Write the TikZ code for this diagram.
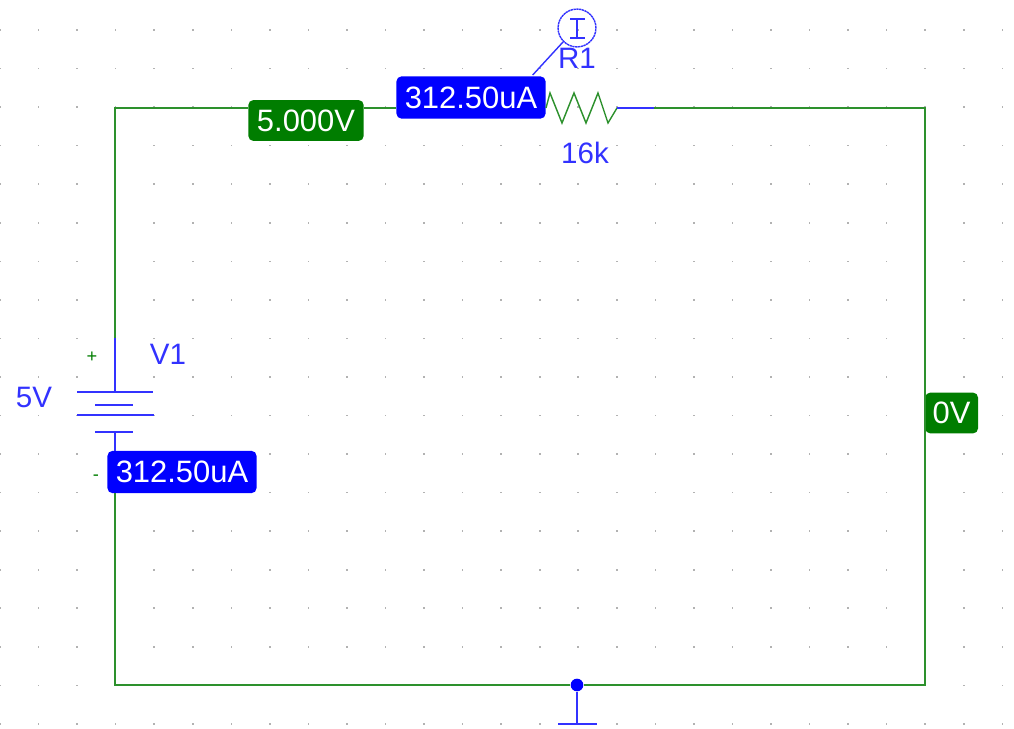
\documentclass[tikz,border=0pt]{standalone}
\usepackage{fontspec}
\setmainfont{Liberation Sans}
\definecolor{wiregreen}{RGB}{45,145,45}
\definecolor{partblue}{RGB}{50,50,255}
\definecolor{probegreen}{RGB}{0,125,0}
\begin{document}
\begin{tikzpicture}[x=0.025cm,y=-0.025cm,
  wire/.style={color=wiregreen,line width=1pt},
  part/.style={color=partblue,line width=1pt},
  parttext/.style={text=partblue,font=\fontsize{21}{24}\selectfont,inner sep=0pt},
  currentlabel/.style={fill=blue,text=white,rounded corners=3.5pt,minimum width=106pt,minimum height=30pt,inner sep=0pt,font=\fontsize{22}{24}\selectfont},
  voltlabel/.style={fill=probegreen,text=white,rounded corners=3.5pt,minimum height=29pt,inner sep=0pt,font=\fontsize{22}{24}\selectfont}]
\useasboundingbox (0,0) rectangle (1014,729);
% grid of dots
\foreach \i in {0,...,26}
  \foreach \j in {0,...,18}
    \fill[color=gray!60] (38.55*\i-0.8,30+38.55*\j-0.8) rectangle (38.55*\i+0.8,30+38.55*\j+0.8);
% corners and ends of the parts
\coordinate (topleft) at (115,108);
\coordinate (topright) at (925,108);
\coordinate (botleft) at (115,685);
\coordinate (botright) at (925,685);
\coordinate (plusend) at (115,338);
\coordinate (plateA) at (115,392);
\coordinate (plateD) at (115,432);
\coordinate (resleft) at (546,108);
\coordinate (resright) at (617,108);
\coordinate (resend) at (654,108);
\coordinate (gndend) at (577,724);
% labels
\node[voltlabel,minimum width=82pt] (vtop) at (306,120.5) {5.000V};
\node[currentlabel] (itop) at (471,97.5) {312.50uA};
\node[currentlabel] (ibat) at (182,472) {312.50uA};
\node[voltlabel,minimum width=37.5pt,anchor=west] (vright) at (925,413) {0V};
\node[circle,fill=blue,minimum size=9pt,inner sep=0pt] (gndnode) at (577,685) {};
\node[circle,draw=partblue,dash pattern=on 1.6pt off 0.4pt,line width=1pt,minimum size=38*0.7087pt,inner sep=0pt] (probe) at (577,28) {};
\node[parttext] (rname) at (577,58) {R1};
\node[parttext] (rvalue) at (585,153) {16k};
\node[parttext] (vname) at (168,354) {V1};
\node[parttext] (vvalue) at (34,397) {5V};
\node[text=probegreen,inner sep=0pt,font=\fontsize{13}{14}\selectfont] (plus) at (92,357) {+};
\node[text=probegreen,inner sep=0pt,font=\fontsize{13}{14}\selectfont] (minus) at (96,478) {-};
% wires
\draw[wire] (vtop.west |- topleft) -- (topleft) -- (plusend);
\draw[wire] (vtop.east |- topleft) -- (itop.west |- topleft);
\draw[wire] (resend) -- (topright) -- (vright.west);
\draw[wire] (vright.west) -- (botright) -- (gndnode);
\draw[wire] (gndnode) -- (botleft) -- (ibat.south -| botleft);
% resistor
\draw[wire,line join=miter] (resleft) -- (550,93) -- (562,123) -- (574,93) -- (586,123) -- (598,93) -- (608,123) -- (resright);
\draw[part] (resright) -- (resend);
% source
\draw[part] (plusend) -- (plateA);
\draw[part] (77,392) -- (153,392);
\draw[part] (95,405) -- (133,405);
\draw[part] (77,415) -- (154,415);
\draw[part] (95,432) -- (133,432);
\draw[part] (plateD) -- (ibat.north -| plateD);
% ground
\draw[part] (gndnode) -- (gndend);
\draw[part] (558,724) -- (597,724);
% probe
\draw[part] (probe.225) -- (532.7,75);
\draw[part] (570,19) -- (585,19);
\draw[part] (570,38) -- (585,38);
\draw[part] (577,19) -- (577,38);
\end{tikzpicture}
\end{document}
